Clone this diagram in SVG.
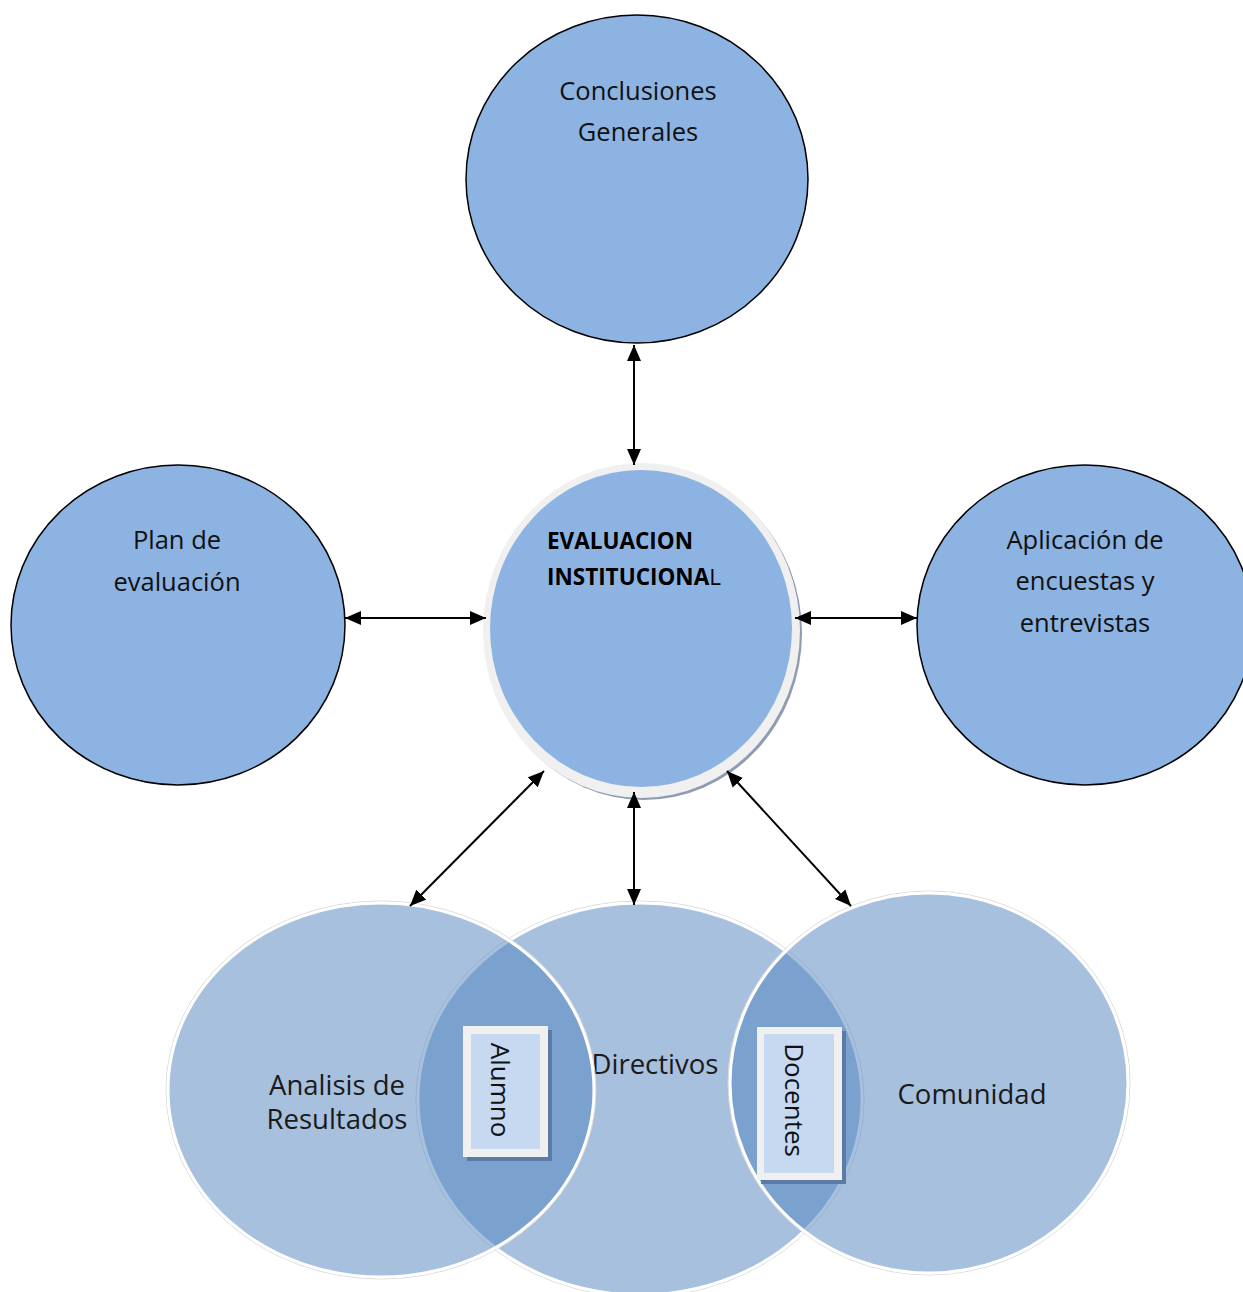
<svg xmlns="http://www.w3.org/2000/svg" width="1243" height="1292" viewBox="0 0 1243 1292">
<style>
.node{fill:#8db3e2;stroke:#000;stroke-width:1.5}
.lbl{font-family:"Open Sans",sans-serif;font-size:25.5px;fill:#111;text-anchor:middle}
.bold{font-family:"Open Sans",sans-serif;font-size:22.5px;font-weight:bold;fill:#000}
.venn{fill:#4f81bd;fill-opacity:0.5;stroke:#fff;stroke-width:3}
.halo{fill:none;stroke:#d9d9d9;stroke-width:1}
.vt{font-family:"Open Sans",sans-serif;font-size:27.5px;fill:#1a1a1a}
.rt{font-family:"Open Sans",sans-serif;font-size:26px;fill:#111}
.conn{stroke:#000;stroke-width:2;fill:none;marker-start:url(#ah);marker-end:url(#ah)}
.boxo{fill:#f0f0f0}
.boxi{fill:#c6d9f1}
.boxs{fill:#5b7aa6}
</style>
<defs>
<marker id="ah" markerUnits="userSpaceOnUse" markerWidth="17" markerHeight="15" refX="16" refY="7" orient="auto-start-reverse" viewBox="0 0 17 14">
<path d="M0,0 L16,7 L0,14 z" fill="#000"/>
</marker>
</defs>
<rect width="1243" height="1292" fill="#fff"/>

<g id="conclusiones">
<ellipse class="node" cx="637" cy="179" rx="171" ry="164"/>
<text class="lbl" x="638" y="100">Conclusiones</text>
<text class="lbl" x="638" y="141">Generales</text>
</g>

<g id="plan">
<ellipse class="node" cx="178" cy="625" rx="167" ry="160"/>
<text class="lbl" x="177" y="549">Plan de</text>
<text class="lbl" x="177" y="591">evaluación</text>
</g>

<g id="aplicacion">
<ellipse class="node" cx="1085" cy="625" rx="168" ry="160"/>
<text class="lbl" x="1085" y="549">Aplicación de</text>
<text class="lbl" x="1085" y="590">encuestas y</text>
<text class="lbl" x="1085" y="632">entrevistas</text>
</g>

<g id="evaluacion">
<ellipse cx="644" cy="633" rx="158" ry="167" fill="#8f9bb0"/>
<ellipse cx="641.5" cy="630.5" rx="158.5" ry="167.5" fill="#f0f0f0"/>
<ellipse cx="641" cy="628.5" rx="151" ry="158.5" fill="#8db3e2"/>
<text class="bold" x="547" y="549">EVALUACION</text>
<text class="bold" x="547" y="585">INSTITUCIONA<tspan font-weight="normal">L</tspan></text>
</g>

<g id="directivos">
<ellipse class="halo" cx="640" cy="1099" rx="224" ry="198"/>
<ellipse class="venn" cx="640" cy="1099" rx="222" ry="196"/>
<text class="vt" x="655" y="1074" text-anchor="middle">Directivos</text>
</g>

<g id="analisis">
<ellipse class="halo" cx="381" cy="1090" rx="215" ry="189"/>
<ellipse class="venn" cx="381" cy="1090" rx="213" ry="187"/>
<text class="vt" x="337" y="1095" text-anchor="middle">Analisis de</text>
<text class="vt" x="337" y="1129" text-anchor="middle">Resultados</text>
</g>

<g id="comunidad">
<ellipse class="halo" cx="929" cy="1083" rx="201" ry="192"/>
<ellipse class="venn" cx="929" cy="1083" rx="199" ry="190"/>
<text class="vt" x="972" y="1104" text-anchor="middle">Comunidad</text>
</g>

<g id="alumno">
<rect class="boxs" x="467" y="1030" width="85" height="131"/>
<rect class="boxo" x="463" y="1026" width="85" height="131"/>
<rect class="boxi" x="471" y="1034" width="69" height="115"/>
<text class="rt" transform="translate(491,1090) rotate(90)" text-anchor="middle">Alumno</text>
</g>

<g id="docentes">
<rect class="boxs" x="761" y="1031" width="85" height="153"/>
<rect class="boxo" x="757" y="1027" width="85" height="153"/>
<rect class="boxi" x="764" y="1034" width="70" height="139"/>
<text class="rt" transform="translate(785,1100) rotate(90)" text-anchor="middle">Docentes</text>
</g>

<g id="connectors">
<line class="conn" x1="634" y1="345" x2="634" y2="465"/>
<line class="conn" x1="345" y1="618" x2="486" y2="618"/>
<line class="conn" x1="795" y1="618" x2="917" y2="618"/>
<line class="conn" x1="634" y1="792" x2="634" y2="905"/>
<line class="conn" x1="544" y1="771" x2="410" y2="906"/>
<line class="conn" x1="727" y1="771" x2="851" y2="906"/>
</g>
</svg>
